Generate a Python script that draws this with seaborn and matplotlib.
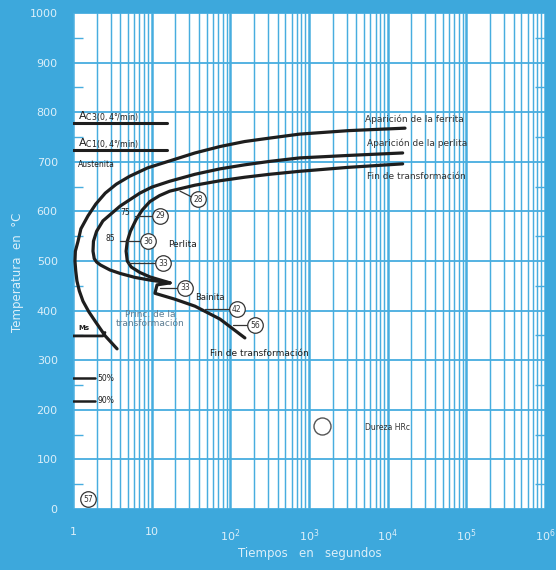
import matplotlib
matplotlib.use("Agg")
import matplotlib.pyplot as plt
from matplotlib.ticker import LogLocator, MultipleLocator, NullFormatter, FixedLocator
import seaborn as sns

sns.set_style("white")
plt.rcParams['font.family'] = ['DejaVu Sans']

BG = '#3DA8DC'
GRID = '#47ADDF'
LIGHT = '#DCEFF9'
INK = '#1E1E1E'

# --- TTT curves (time in s, temperature in degC) ---
ferrita_t = [16596, 3162, 758.6, 316.2, 151.4, 74.13, 35.48, 16.98, 8.913, 5.248, 3.548, 2.570,
             1.950, 1.549, 1.259, 1.159, 1.072, 1.059, 1.084, 1.122, 1.202, 1.340, 1.585, 1.905,
             2.570, 3.631]
ferrita_T = [768, 763, 756, 748, 741, 731, 718, 702, 688, 671, 655, 637,
             615, 591, 565, 540, 520, 500, 480, 460, 440, 419, 398, 379,
             349, 323]

perlita_t = [15488, 3162, 758.6, 316.2, 151.4, 74.13, 35.48, 16.98, 10.0, 7.079, 3.981, 2.399,
             1.995, 1.820, 1.795, 1.862, 1.995, 2.239, 2.951, 3.981, 6.138, 10.0, 17.10]
perlita_T = [718, 713, 708, 701, 694, 686, 675, 661, 649, 637, 611, 581,
             560, 540, 520, 505, 498, 492, 482, 475, 467, 461, 456]

fin_t = [15488, 3162, 758.6, 316.2, 151.4, 74.13, 35.48, 16.98, 12.59, 9.506, 7.586, 6.310,
         5.370, 4.898, 4.732, 4.898, 5.495, 7.079, 9.506, 17.10]
fin_T = [696, 689, 681, 675, 669, 662, 653, 641, 632, 620, 603, 583,
         560, 540, 520, 500, 488, 477, 468, 456]

bainita_t = [17.1, 11.7, 11.0, 19.8, 35.5, 73.8, 153]
bainita_T = [456, 452, 435, 423, 409, 383, 345]

# horizontal reference lines
ac3_t, ac3_T = [1.0, 15.6], [778, 778]
ac1_t, ac1_T = [1.0, 15.6], [724, 724]
ms_t, ms_T = [1.0, 2.4, 2.55], [349, 349, 356]
m50_t, m50_T = [1.0, 1.9], [264, 264]
m90_t, m90_T = [1.0, 1.9], [218, 218]

# hardness HRc circles
hrc_t = [38.7, 12.7, 8.97, 13.9, 26.5, 121, 205, 1.55]
hrc_T = [625, 591, 540, 496, 446, 403, 371, 20]
hrc_lbl = ['28', '29', '36', '33', '33', '42', '56', '57']

leader_t = [[22.9, 32.5], [6.14, 10.1], [3.96, 7.10], [5.0, 11.0], [12.7, 21.0], [47.6, 96.0], [108, 163]]
leader_T = [[641, 629], [591, 591], [540, 540], [496, 496], [446, 446], [403, 403], [371, 371]]

xtick_vals = [1, 10, 100, 1000, 1e4, 1e5, 1e6]
xtick_lbls = ['1', '10', '$10^2$', '$10^3$', '$10^4$', '$10^5$', '$10^6$']

fig = plt.figure(figsize=(5.56, 5.70), dpi=100, facecolor=BG)
ax = fig.add_axes([0.1313, 0.107, 0.849, 0.870])
ax.set_facecolor('white')
ax.set_xscale('log')
ax.set_xlim(1, 1e6)
ax.set_ylim(0, 1000)

# grid
ax.xaxis.set_major_locator(FixedLocator(xtick_vals))
ax.xaxis.set_minor_locator(LogLocator(base=10, subs=range(2, 10), numticks=20))
ax.xaxis.set_minor_formatter(NullFormatter())
ax.set_xticklabels(xtick_lbls)
ax.yaxis.set_major_locator(MultipleLocator(100))
ax.yaxis.set_minor_locator(MultipleLocator(50))
ax.grid(which='major', axis='x', color=GRID, lw=1.8)
ax.grid(which='minor', axis='x', color=GRID, lw=1.05)
ax.grid(which='major', axis='y', color=GRID, lw=1.3)
ax.set_axisbelow(True)
for s in ax.spines.values():
    s.set_visible(False)

ax.tick_params(axis='x', which='both', length=0, pad=13, labelsize=8, labelcolor=LIGHT)
ax.tick_params(axis='y', which='major', length=0, pad=11, labelsize=8, labelcolor=LIGHT)
ax.tick_params(axis='y', which='minor', direction='in', length=7, width=1.0,
               color=GRID, left=True, right=True)

# curves
for xs, ys in [(ferrita_t, ferrita_T), (perlita_t, perlita_T), (fin_t, fin_T), (bainita_t, bainita_T)]:
    sns.lineplot(x=xs, y=ys, sort=False, estimator=None, color=INK, lw=2.3, ax=ax)

for xs, ys, w in [(ac3_t, ac3_T, 2.2), (ac1_t, ac1_T, 2.2), (ms_t, ms_T, 2.0),
                  (m50_t, m50_T, 1.8), (m90_t, m90_T, 1.8)]:
    sns.lineplot(x=xs, y=ys, sort=False, estimator=None, color=INK, lw=w, ax=ax)

for xs, ys in zip(leader_t, leader_T):
    ax.plot(xs, ys, color='#333333', lw=0.9)

# hardness circles
sns.scatterplot(x=hrc_t, y=hrc_T, s=125, color='white', edgecolor='#333333',
                linewidth=0.9, zorder=5, ax=ax)
for t, T, lb in zip(hrc_t, hrc_T, hrc_lbl):
    ax.text(t, T, lb, fontsize=5.5, ha='center', va='center', color='#333333', zorder=6)

# legend circle
sns.scatterplot(x=[1460], y=[167], s=150, color='white', edgecolor='#555555',
                linewidth=1.0, zorder=5, ax=ax)
ax.text(5130, 165, 'Dureza HRc', fontsize=5.5, color='#333333', va='center')

# annotations
ax.text(1.16, 790, r'A$_{\mathregular{C3(0,4°/min)}}$', fontsize=8, color=INK, va='center')
ax.text(1.16, 736, r'A$_{\mathregular{C1(0,4°/min)}}$', fontsize=8, color=INK, va='center')
ax.text(1.16, 694, 'Austenita', fontsize=5.5, color=INK, va='center')
ax.text(1.16, 366, 'Ms', fontsize=5, color=INK, va='center', fontweight='bold')
ax.text(2.02, 264, '50%', fontsize=5.5, color=INK, va='center')
ax.text(2.02, 218, '90%', fontsize=5.5, color=INK, va='center')
ax.text(4.58, 597, '75', fontsize=5.5, color=INK, ha='center', va='center')
ax.text(2.95, 546, '85', fontsize=5.5, color=INK, ha='center', va='center')
ax.text(16.1, 534, 'Perlita', fontsize=6.5, color=INK, va='center')
ax.text(35.5, 427, 'Bainita', fontsize=6, color=INK, va='center')
ax.text(9.5, 383, 'Princ. de la\ntransformación', fontsize=6.5, color='#5D7D92',
        ha='center', va='center', multialignment='center', linespacing=1.1)
ax.text(55.1, 313, 'Fin de transformación', fontsize=6.5, color=INK, va='center')
ax.text(5130, 786, 'Aparición de la ferrita', fontsize=6.5, color='#333333', va='center')
ax.text(5440, 738, 'Aparición de la perlita', fontsize=6.5, color='#333333', va='center')
ax.text(5440, 671, 'Fin de transformación', fontsize=6.5, color='#333333', va='center')

# axis titles
fig.text(18 / 556, 1 - 272 / 570, 'Temperatura  en  °C', rotation=90, fontsize=8.5,
         color=LIGHT, ha='center', va='center')
fig.text(310 / 556, 1 - 554 / 570, 'Tiempos   en   segundos', fontsize=8.5,
         color=LIGHT, ha='center', va='center')

fig.savefig('out.png', dpi=100, facecolor=BG)
